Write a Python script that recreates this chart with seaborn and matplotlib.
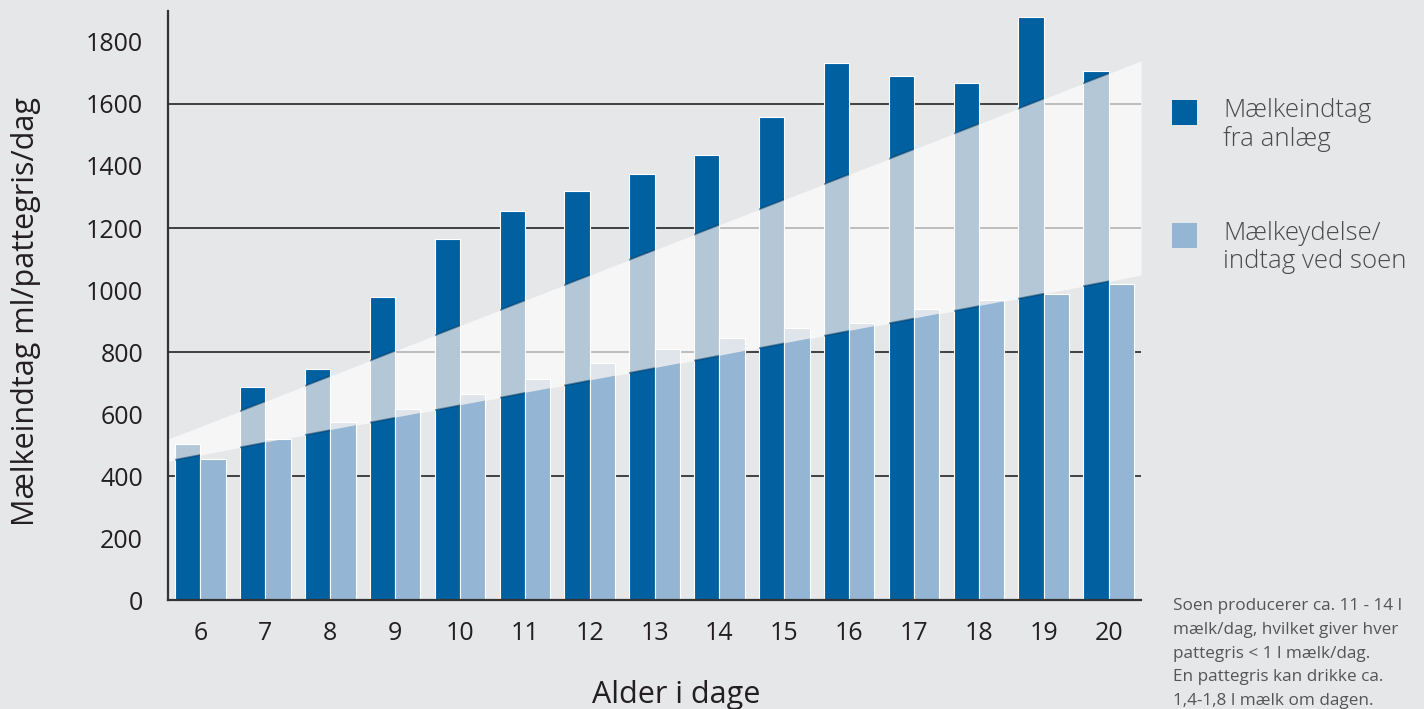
import numpy as np
import pandas as pd
import seaborn as sns
import matplotlib.pyplot as plt
from matplotlib.patches import Rectangle, Polygon
from matplotlib.colors import to_rgb

dage = list(range(6, 21))
anlaeg = [503, 687, 745, 977, 1165, 1255, 1319, 1374, 1435, 1558, 1732, 1690, 1668, 1880, 1706]
soen = [455, 519, 574, 616, 665, 713, 765, 810, 845, 877, 893, 939, 968, 987, 1019]
band_nedre = [448, 1048]   # ved venstre og hoejre kant af plottet
band_oevre = [519, 1739]
grid_niveauer = [400, 800, 1200, 1600]

serie_navne = ['Mælkeindtag\nfra anlæg', 'Mælkeydelse/\nindtag ved soen']
note = ('Soen producerer ca. 11 - 14 l\nmælk/dag, hvilket giver hver\n'
        'pattegris < 1 l mælk/dag.\nEn pattegris kan drikke ca.\n1,4-1,8 l mælk om dagen.')

df = pd.DataFrame({
    'dag': dage * 2,
    'ml': anlaeg + soen,
    'serie': [serie_navne[0]] * len(dage) + [serie_navne[1]] * len(dage),
})

bg = '#e6e7e9'
moerk = '#0060a0'
lys = '#94b5d3'
tekst = '#231f20'
skaerm = np.array([180, 165, 145]) / 255  # "screen"-farve for baandet


def screen(farve):
    c = np.array(to_rgb(farve))
    return tuple(1 - (1 - c) * (1 - skaerm))


sns.set_style('white')
plt.rcParams['font.family'] = ['Open Sans', 'DejaVu Sans']

fig = plt.figure(figsize=(14.24, 7.09), dpi=100, facecolor=bg)
ax = fig.add_axes([0.118, 0.1537, 0.6833, 0.8308])
ax.set_facecolor(bg)

ax.hlines(grid_niveauer, -0.5, 14.5, color='#333333', lw=1.3, zorder=0.5)

# baandet under soejlerne (lys baggrund)
ax.fill_between([-0.5, 14.5], band_nedre, band_oevre, color='white',
                alpha=0.66, lw=0, zorder=1)

sns.barplot(data=df, x='dag', y='ml', hue='serie', palette=[moerk, lys],
            width=0.78, edgecolor='white', linewidth=0.8, legend=False,
            saturation=1, ax=ax, zorder=2)

# soejlernes del inde i baandet
band_poly = Polygon([(-0.5, band_nedre[0]), (14.5, band_nedre[1]),
                     (14.5, band_oevre[1]), (-0.5, band_oevre[0])],
                    transform=ax.transData, facecolor='none', edgecolor='none')
ax.add_patch(band_poly)
for bar in list(ax.patches):
    if bar is band_poly:
        continue
    fc = bar.get_facecolor()[:3]
    kopi = Rectangle(bar.get_xy(), bar.get_width(), bar.get_height(),
                     facecolor=screen(fc), edgecolor='white', lw=0.8, zorder=3)
    ax.add_patch(kopi)
    kopi.set_clip_path(band_poly)
    if np.allclose(fc, to_rgb(moerk), atol=0.02):
        for kant in (band_nedre, band_oevre):
            ln, = ax.plot([-0.5, 14.5], kant, color='#003760', lw=1.3,
                          alpha=0.5, zorder=3.5)
            ln.set_clip_path(bar)

ax.set_xlim(-0.5, 14.5)
ax.set_ylim(0, 1900)
ax.set_yticks(range(0, 1801, 200))
ax.set_xticks(np.arange(-0.5, 14), minor=True)
ax.tick_params(axis='y', length=0, pad=18, labelsize=18, labelcolor=tekst)
ax.tick_params(axis='x', which='major', length=0, pad=15, labelsize=18, labelcolor=tekst)
ax.tick_params(axis='x', which='minor', direction='in', length=11, width=1.5, color='#333333')

sns.despine(ax=ax, top=True, right=True)
for s in ['left', 'bottom']:
    ax.spines[s].set_color('#333333')
    ax.spines[s].set_linewidth(1.6)
    ax.spines[s].set_zorder(4)

ax.set_xlabel('Alder i dage', fontsize=22, color=tekst, va='top')
ax.xaxis.set_label_coords(0.522, -0.135)
ax.set_ylabel('Mælkeindtag ml/pattegris/dag', fontsize=22, color=tekst)
ax.yaxis.set_label_coords(-0.131, 0.489)

# signaturforklaring
for farve, navn, y0, yt in [(moerk, serie_navne[0], 0.8237, 0.862),
                             (lys, serie_navne[1], 0.6502, 0.688)]:
    fig.add_artist(Rectangle((0.8230, y0), 0.01756, 0.03526, transform=fig.transFigure,
                             facecolor=farve, edgecolor='none'))
    fig.text(0.8588, yt, navn, fontsize=18.5, color='#4a4a4a', fontweight='light',
             va='top', ha='left', linespacing=1.15)

fig.text(0.8237, 1 - 598 / 709, note, fontsize=12.3, color='#555555',
         va='top', ha='left', linespacing=1.65)

fig.savefig('out.png', dpi=100, facecolor=bg)
